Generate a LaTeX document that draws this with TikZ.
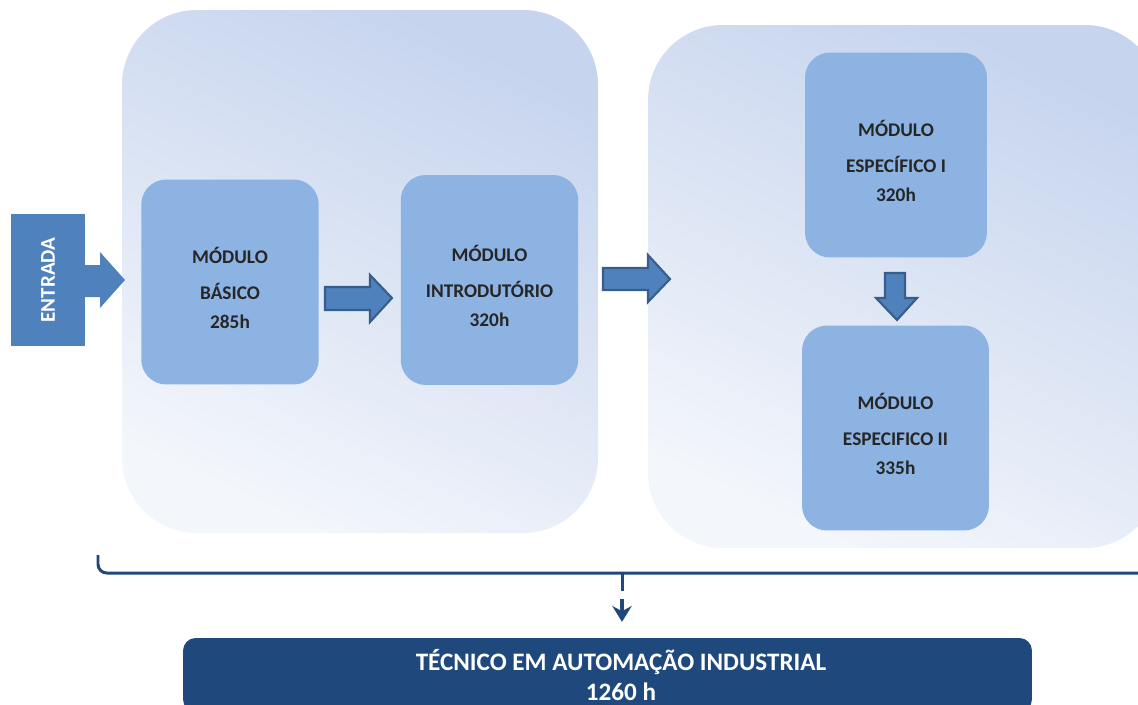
\documentclass[tikz,border=0pt]{standalone}
\usepackage{fontspec}
\setmainfont{Carlito}
\usetikzlibrary{arrows.meta}

\definecolor{moduleblue}{HTML}{8DB3E2}
\definecolor{arrowblue}{HTML}{4F81BD}
\definecolor{arrowedge}{HTML}{385D8A}
\definecolor{darkblue}{HTML}{1F497D}
\definecolor{paneltop}{HTML}{C6D4EE}
\definecolor{panelmid}{HTML}{D3DDF2}
\definecolor{panelbot}{HTML}{F3F6FB}

\tikzset{
  panel/.style={rounded corners=1.5cm, top color=paneltop, middle color=panelmid, bottom color=panelbot, shading angle=-25},
  modulo/.style={fill=moduleblue, rounded corners=0.5cm, minimum width=3.55cm, minimum height=4.1cm},
  modtext/.style={align=center, text=black!85, font=\fontsize{11}{16.5}\selectfont\bfseries},
  blockarrow/.style={fill=arrowblue, draw=arrowedge, line width=1.2pt, line join=miter},
  bracket/.style={draw=darkblue, line width=1.7pt},
}

\begin{document}
\begin{tikzpicture}[x=0.02cm, y=-0.02cm]
\useasboundingbox (0,0) rectangle (1138,704);
\clip (0,0) rectangle (1138,704);
% background groups
\shade[panel] (122,10) rectangle (598,533);
\shade[panel] (648,25) rectangle (1160,548);

% entry block with its arrow
\node (entrada) [fill=arrowblue, rotate=90, minimum width=2.64cm, minimum height=1.48cm,
  text=white, font=\fontsize{12}{14}\selectfont\bfseries] at (48,280) {ENTRADA};
\fill[arrowblue] (85,265)--(100,265)--(100,252)--(125,280)--(100,308)--(100,297)--(85,297)--cycle;

% modules
\node (basico) [modulo] at (230,282) {};
\node (introdutorio) [modulo, minimum height=4.2cm] at (489.5,280) {};
\node (especifico1) [modulo, minimum width=3.64cm] at (896,155) {};
\node (especifico2) [modulo, minimum width=3.74cm] at (895.5,428) {};
\node (basicotxt) [modtext] at ([yshift=-0.12cm]basico.center) {MÓDULO\\[3.5pt]BÁSICO\\285h};
\node (introdutoriotxt) [modtext] at ([yshift=-0.12cm]introdutorio.center) {MÓDULO\\[3.5pt]INTRODUTÓRIO\\320h};
\node (especifico1txt) [modtext] at ([yshift=-0.12cm]especifico1.center) {MÓDULO\\[3.5pt]ESPECÍFICO I\\320h};
\node (especifico2txt) [modtext] at ([yshift=-0.12cm]especifico2.center) {MÓDULO\\[3.5pt]ESPECIFICO II\\335h};

% block arrows
\draw[blockarrow] (325,287)--(370,287)--(370,275)--(392,298)--(370,322)--(370,310)--(325,310)--cycle;
\draw[blockarrow] (603,268)--(648,268)--(648,255)--(670,279)--(648,302)--(648,290)--(603,290)--cycle;
\draw[blockarrow] (885,273)--(905,273)--(905,298)--(917,298)--(897,320)--(876,298)--(885,298)--cycle;

% bracket over both groups
\draw[bracket, rounded corners=5pt] (98,555) -- (98,573) -- (1145,573);
\draw[bracket] (622,573) -- (622,591);
\coordinate (seta) at (622,599);

% result
\node (tecnico) [fill=darkblue, rounded corners=0.25cm, minimum width=16.98cm, minimum height=1.48cm] at (607.5,675) {};
\node (titulo) [text=white, align=center, font=\fontsize{14.3}{17}\selectfont\bfseries] at (621,675)
  {TÉCNICO EM AUTOMAÇÃO INDUSTRIAL\\1260 h};
\draw[darkblue, line width=2.4pt, -{Stealth[length=9pt, width=11pt]}, shorten >=9pt] (seta) -- (seta |- tecnico.north);
\end{tikzpicture}
\end{document}
